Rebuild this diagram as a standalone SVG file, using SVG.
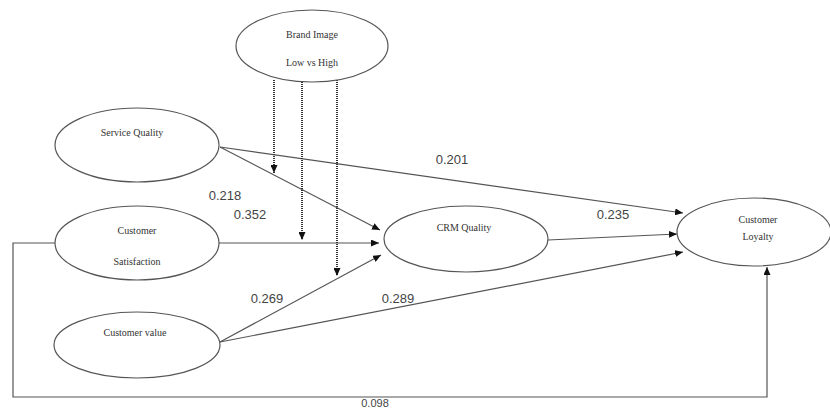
<svg xmlns="http://www.w3.org/2000/svg" width="830" height="412" viewBox="0 0 830 412">
<defs>
<style>
.node{fill:#fff;stroke:#555;stroke-width:1.2}
.nt{font-family:"Liberation Serif","Times New Roman",serif;font-size:10px;fill:#333;text-anchor:middle}
.e{fill:none;stroke:#555;stroke-width:1.2}
.d{fill:none;stroke:#333;stroke-width:2;stroke-dasharray:1 1}
.lb{font-family:"Liberation Sans",Arial,sans-serif;font-size:13px;fill:#444;text-anchor:middle}
</style>
<marker id="ah" markerUnits="userSpaceOnUse" markerWidth="9" markerHeight="7" refX="8" refY="3.5" orient="auto">
<path d="M0,0 L8,3.5 L0,7 z" fill="#111"/>
</marker>
</defs>
<rect width="830" height="412" fill="#fff"/>
<g id="connectors">
<line class="e" x1="220" y1="147" x2="380" y2="230" marker-end="url(#ah)"/>
<line class="e" x1="220" y1="147" x2="683" y2="213" marker-end="url(#ah)"/>
<line class="e" x1="219" y1="243" x2="379" y2="243" marker-end="url(#ah)"/>
<line class="e" x1="220" y1="342" x2="381" y2="255" marker-end="url(#ah)"/>
<line class="e" x1="220" y1="342" x2="683" y2="252" marker-end="url(#ah)"/>
<line class="e" x1="548" y1="240" x2="677" y2="234" marker-end="url(#ah)"/>
<path class="e" d="M55,243 H13 V397 H767 V267" marker-end="url(#ah)"/>
<line class="d" x1="274" y1="80" x2="274" y2="173" marker-end="url(#ah)"/>
<line class="d" x1="302" y1="82" x2="302" y2="240" marker-end="url(#ah)"/>
<line class="d" x1="337" y1="80" x2="337" y2="276" marker-end="url(#ah)"/>
<text class="lb" x="452" y="164">0.201</text>
<text class="lb" x="225" y="200">0.218</text>
<text class="lb" x="250" y="219">0.352</text>
<text class="lb" x="613" y="219">0.235</text>
<text class="lb" x="267" y="303">0.269</text>
<text class="lb" x="398" y="303">0.289</text>
<text class="lb" x="375" y="407" style="font-size:11px">0.098</text>
</g>
<g id="brand-image">
<ellipse class="node" cx="312" cy="46" rx="76" ry="36"/>
<text class="nt" x="312" y="38">Brand Image</text>
<text class="nt" x="312" y="66">Low vs High</text>
</g>
<g id="service-quality">
<ellipse class="node" cx="137" cy="145" rx="82" ry="37"/>
<text class="nt" x="132" y="136">Service Quality</text>
</g>
<g id="customer-satisfaction">
<ellipse class="node" cx="137" cy="243" rx="82" ry="37"/>
<text class="nt" x="137" y="234">Customer</text>
<text class="nt" x="137" y="265">Satisfaction</text>
</g>
<g id="customer-value">
<ellipse class="node" cx="137" cy="345" rx="83" ry="33"/>
<text class="nt" x="135" y="336">Customer value</text>
</g>
<g id="crm-quality">
<ellipse class="node" cx="466" cy="239" rx="82" ry="33"/>
<text class="nt" x="464" y="231">CRM Quality</text>
</g>
<g id="customer-loyalty">
<ellipse class="node" cx="754" cy="232" rx="77" ry="34"/>
<text class="nt" x="758" y="223">Customer</text>
<text class="nt" x="758" y="240">Loyalty</text>
</g>
</svg>
